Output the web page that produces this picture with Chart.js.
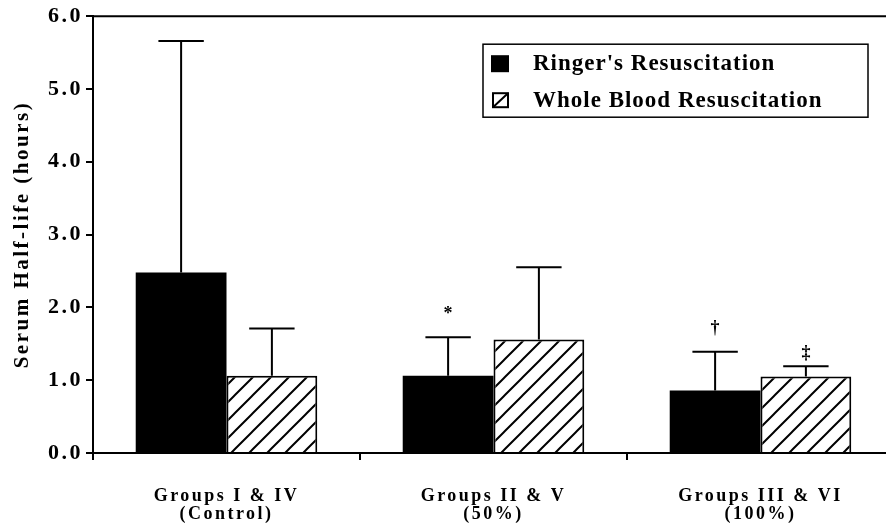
<!DOCTYPE html>
<html>
<head>
<meta charset="utf-8">
<script src="https://cdn.jsdelivr.net/npm/chart.js@4/dist/chart.umd.min.js"></script>
<style>
  html, body { margin: 0; padding: 0; background: #fff; overflow: hidden; width: 886px; height: 529px; }
  canvas { display: block; }
</style>
</head>
<body>
<canvas id="halfLife" width="894" height="529"></canvas>
<script>
const categories = [['Groups I & IV', '(Control)'], ['Groups II & V', '(50%)'], ['Groups III & VI', '(100%)']];
const ringerMean = [2.48, 1.06, 0.86];
const ringerErr = [3.18, 0.53, 0.53];
const ringerMarks = ['', '*', '†'];
const bloodMean = [1.06, 1.56, 1.05];
const bloodErr = [0.65, 0.99, 0.14];
const bloodMarks = ['', '', '‡'];
const yTicks = [0, 1, 2, 3, 4, 5, 6];

const serif = '"Liberation Serif", "Times New Roman", serif';

const makeHatch = () => {
    const size = 18;
    const c = document.createElement('canvas');
    c.width = size;
    c.height = size;
    const g = c.getContext('2d');
    g.fillStyle = '#fff';
    g.fillRect(0, 0, size, size);
    g.strokeStyle = '#000';
    g.lineWidth = 2;
    g.beginPath();
    g.moveTo(0, size); g.lineTo(size, 0);
    g.moveTo(-size / 2, size / 2); g.lineTo(size / 2, -size / 2);
    g.moveTo(size / 2, size * 1.5); g.lineTo(size * 1.5, size / 2);
    g.stroke();
    return g.createPattern(c, 'repeat');
};
const ctx = document.getElementById('halfLife').getContext('2d');
const hatch = makeHatch();

// x labels drawn first (z 0), y axis drawn after the bars (z 1), each with its own letter spacing
const spacing = {
    id: 'spacing',
    beforeDraw: (chart) => { chart.ctx.letterSpacing = '2.5px'; },
    beforeDatasetsDraw: (chart) => { chart.ctx.letterSpacing = '0px'; },
};

const frameAndErrors = {
    id: 'frameAndErrors',
    afterDatasetsDraw: (chart) => {
        const c = chart.ctx;
        const area = chart.chartArea;
        const y = chart.scales.y;
        c.save();
        c.strokeStyle = '#000';
        c.fillStyle = '#000';
        c.lineWidth = 2;
        // top frame line
        c.beginPath();
        c.moveTo(area.left - 1, area.top);
        c.lineTo(area.right, area.top);
        c.stroke();

        const errs = [ringerErr, bloodErr];
        const marks = [ringerMarks, bloodMarks];
        chart.data.datasets.forEach((ds, di) => {
            chart.getDatasetMeta(di).data.forEach((bar, i) => {
                const top = y.getPixelForValue(ds.data[i] + errs[di][i]);
                const half = bar.width / 4;
                c.beginPath();
                c.moveTo(bar.x, bar.y);
                c.lineTo(bar.x, top);
                c.moveTo(bar.x - half, top);
                c.lineTo(bar.x + half, top);
                c.stroke();
                if (marks[di][i]) {
                    c.font = 'bold 18px ' + serif;
                    c.textAlign = 'center';
                    c.textBaseline = 'bottom';
                    c.fillText(marks[di][i], bar.x, top - (marks[di][i] === '‡' ? 4 : 14));
                }
            });
        });

        // legend box
        const boxRight = area.right - 26;
        const boxLeft = boxRight - 385;
        const boxTop = area.top + 28;
        c.lineWidth = 1.5;
        c.strokeRect(boxLeft, boxTop, 385, 73);
        c.font = 'bold 23px ' + serif;
        c.letterSpacing = '1px';
        c.textAlign = 'left';
        c.textBaseline = 'middle';
        chart.data.datasets.forEach((ds, di) => {
            const cy = boxTop + 19 + di * 37;
            const sx = boxLeft + 8;
            if (di === 0) {
                c.fillRect(sx, cy - 8, 18, 17);
            } else {
                c.lineWidth = 2;
                c.strokeRect(sx + 2, cy - 7, 15, 14);
                c.beginPath();
                c.moveTo(sx + 2, cy + 7);
                c.lineTo(sx + 17, cy - 7);
                c.stroke();
            }
            c.fillText(ds.label, boxLeft + 50, cy + 1);
        });
        c.restore();
        c.letterSpacing = '2.5px';
    },
};

new Chart(ctx, {
    type: 'bar',
    data: {
        labels: categories,
        datasets: [
            {
                label: "Ringer's Resuscitation",
                data: ringerMean,
                backgroundColor: '#000',
                borderColor: '#000',
                borderWidth: 0,
            },
            {
                label: 'Whole Blood Resuscitation',
                data: bloodMean,
                backgroundColor: hatch,
                borderColor: '#000',
                borderWidth: 2,
                borderSkipped: 'bottom',
            },
        ],
    },
    options: {
        responsive: false,
        animation: false,
        layout: { padding: { top: 15, left: 0, right: 0, bottom: 0 } },
        datasets: { bar: { categoryPercentage: 0.68, barPercentage: 1.0 } },
        plugins: {
            legend: { display: false },
            tooltip: { enabled: false },
        },
        scales: {
            x: {
                grid: { display: true, drawOnChartArea: false, drawTicks: true, tickLength: 7, color: '#000', lineWidth: 2 },
                border: { display: true, color: '#000', width: 2 },
                ticks: {
                    color: '#000',
                    padding: 27,
                    maxRotation: 0,
                    font: { family: serif, size: 18, weight: 'bold', lineHeight: 1.0 },
                },
                afterFit: (scale) => { scale.height = 76; },
            },
            y: {
                min: 0,
                max: 6,
                z: 1,
                afterBuildTicks: (scale) => { scale.ticks = yTicks.map(v => ({ value: v })); },
                grid: { display: true, drawOnChartArea: false, drawTicks: true, tickLength: 7, color: '#000', lineWidth: 2 },
                border: { display: true, color: '#000', width: 2 },
                ticks: {
                    color: '#000',
                    padding: 3,
                    callback: (v) => Number(v).toFixed(1),
                    font: { family: serif, size: 22, weight: 'bold' },
                },
                title: {
                    display: true,
                    text: 'Serum Half-life (hours)',
                    color: '#000',
                    padding: { top: 10, bottom: 0 },
                    font: { family: serif, size: 21, weight: 'bold' },
                },
                afterFit: (scale) => { scale.width = 93; },
            },
        },
    },
    plugins: [spacing, frameAndErrors],
});
</script>
</body>
</html>
